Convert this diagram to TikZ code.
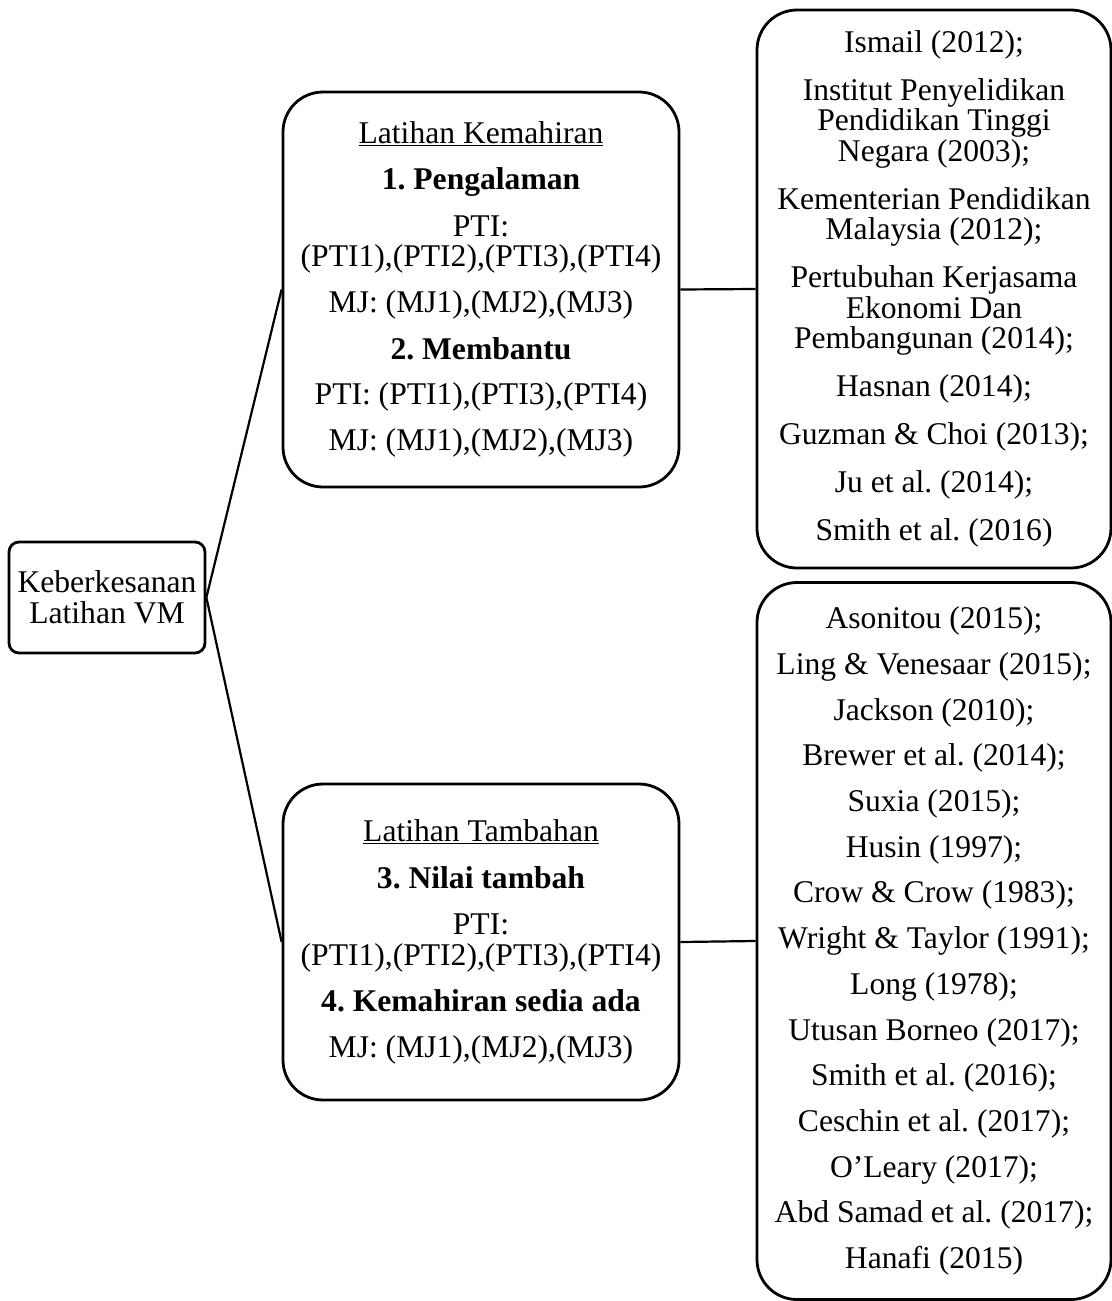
\documentclass[tikz,border=0pt]{standalone}
\usepackage{fontspec}
\setmainfont{Liberation Serif}
\frenchspacing
\begin{document}
\begin{tikzpicture}[x=1pt,y=-1pt,
  box/.style={draw, line width=2.8pt, rounded corners=#1, inner sep=0pt,
    align=center, font=\fontsize{31.6}{30.5}\selectfont},
  link/.style={line width=2.2pt}]
\useasboundingbox (0,0) rectangle (1111,1301);

% root concept
\node[box=10pt, minimum width=196pt, minimum height=111pt] (root) at (107,597.5)
  {Keberkesanan\\Latihan VM};

% middle column: the two kinds of training
\node[box=40pt, minimum width=396pt, minimum height=395pt] (skill) at (481,289.5)
  {\underline{Latihan Kemahiran}\\[15.5pt]
   \textbf{1. Pengalaman}\\[16pt]
   PTI:\\
   (PTI1),(PTI2),(PTI3),(PTI4)\\[15.5pt]
   MJ: (MJ1),(MJ2),(MJ3)\\[16pt]
   \textbf{2. Membantu}\\[15pt]
   PTI: (PTI1),(PTI3),(PTI4)\\[15pt]
   MJ: (MJ1),(MJ2),(MJ3)};

\node[box=40pt, minimum width=396pt, minimum height=316pt] (extra) at (481,942)
  {\underline{Latihan Tambahan}\\[16pt]
   \textbf{3. Nilai tambah}\\[16pt]
   PTI:\\
   (PTI1),(PTI2),(PTI3),(PTI4)\\[16pt]
   \textbf{4. Kemahiran sedia ada}\\[15pt]
   MJ: (MJ1),(MJ2),(MJ3)};

% right column: supporting references
\node[box=40pt, minimum width=354pt, minimum height=558pt] (refsA) at (934,289)
  {Ismail (2012);\\[17.5pt]
   Institut Penyelidikan\\ Pendidikan Tinggi\\ Negara (2003);\\[17.5pt]
   Kementerian Pendidikan\\ Malaysia (2012);\\[17.5pt]
   Pertubuhan Kerjasama\\ Ekonomi Dan\\ Pembangunan (2014);\\[17.5pt]
   Hasnan (2014);\\[17.5pt]
   Guzman \& Choi (2013);\\[17.5pt]
   Ju et al. (2014);\\[17.5pt]
   Smith et al. (2016)};

\node[box=40pt, minimum width=354pt, minimum height=717pt] (refsB) at (934,941)
  {Asonitou (2015);\\[15.2pt]
   Ling \& Venesaar (2015);\\[15.2pt]
   Jackson (2010);\\[15.2pt]
   Brewer et al. (2014);\\[15.2pt]
   Suxia (2015);\\[15.2pt]
   Husin (1997);\\[15.2pt]
   Crow \& Crow (1983);\\[15.2pt]
   Wright \& Taylor (1991);\\[15.2pt]
   Long (1978);\\[15.2pt]
   Utusan Borneo (2017);\\[15.2pt]
   Smith et al. (2016);\\[15.2pt]
   Ceschin et al. (2017);\\[15.2pt]
   O’Leary (2017);\\[15.2pt]
   Abd Samad et al. (2017);\\[15.2pt]
   Hanafi (2015)};

% connectors
\draw[link] (root.east) -- (skill.west);
\draw[link] (root.east) -- (extra.west);
\draw[link] (skill.east) -- (refsA.west);
\draw[link] (extra.east) -- (refsB.west);
\end{tikzpicture}
\end{document}
